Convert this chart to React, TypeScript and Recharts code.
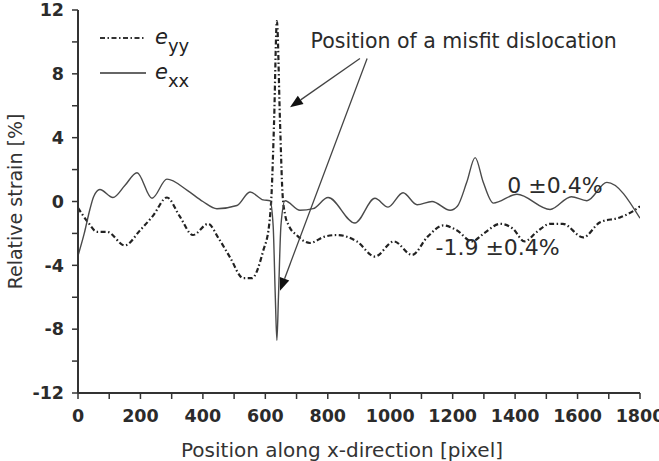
import React from "react";
import {
  LineChart,
  Line,
  XAxis,
  YAxis,
  Legend,
  ReferenceLine,
  ReferenceDot,
} from "recharts";

// e_xx (solid)
const exxX = [0, 20, 38, 50, 70, 112, 150, 189, 237, 285, 350, 400, 445, 509, 551, 593, 615, 625, 632, 637, 642, 650, 663, 711, 753, 801, 887, 951, 993, 1041, 1086, 1134, 1192, 1215, 1245, 1272, 1298, 1330, 1406, 1512, 1580, 1630, 1694, 1800];
const exxY = [-3.4, -2.0, -0.5, 0.3, 0.75, 0.25, 1.0, 1.8, 0.2, 1.4, 0.7, 0.0, -0.45, -0.25, 0.6, 0.1, 0.05, -1.5, -6, -8.7, -6, -1.5, 0.05, -0.55, -0.45, 0.25, -1.35, 0.2, -0.35, 0.55, -0.2, 0.0, -0.55, -0.3, 1.2, 2.75, 1.2, -0.1, 0.45, -0.5, 0.3, 0.05, 1.2, -1.05];

// e_yy (dash-dot-dot)
const eyyX = [0, 32, 61, 93, 150, 199, 240, 285, 325, 368, 417, 450, 487, 529, 557, 593, 612, 620, 628, 637, 647, 655, 663, 675, 700, 743, 790, 830, 893, 951, 1012, 1070, 1120, 1170, 1213, 1262, 1300, 1352, 1393, 1430, 1470, 1512, 1553, 1618, 1672, 1736, 1778, 1800];
const eyyY = [-0.4, -1.3, -1.9, -1.9, -2.75, -1.8, -0.9, 0.25, -0.9, -2.1, -1.4, -2.3, -3.5, -4.8, -4.8, -3.1, -1.5, 0.5, 5, 11.3, 5, 0.5, -0.8, -1.5, -2.1, -2.6, -2.2, -2.1, -2.5, -3.45, -2.5, -3.35, -2.2, -1.5, -1.8, -2.5, -2.0, -1.4, -1.7, -2.5, -1.9, -1.4, -1.4, -2.25, -1.3, -1.0, -0.6, -0.3];

const xTicks = [0, 100, 200, 300, 400, 500, 600, 700, 800, 900, 1000, 1100, 1200, 1300, 1400, 1500, 1600, 1700, 1800];
const yTicks = [-12, -10, -8, -6, -4, -2, 0, 2, 4, 6, 8, 10, 12];

// annotation anchors in data units
const arrowFrom = [{ x: 903, y: 8.96 }, { x: 926, y: 8.96 }];
const arrowTo = [{ x: 679, y: 5.9 }, { x: 647, y: -5.6 }];
const noteText = "Position of a misfit dislocation";
const noteAt = { x: 745, y: 10.05 };
const exxNote = { text: "0 \u00b10.4%", x: 1375, y: 1.0 };
const eyyNote = { text: "-1.9 \u00b10.4%", x: 1145, y: -2.9 };

const exxData = exxX.map((x, i) => ({ x, v: exxY[i] }));
const eyyData = eyyX.map((x, i) => ({ x, v: eyyY[i] }));

const FONT = "'DejaVu Sans', 'Liberation Sans', Arial, sans-serif";
const INK = "#2b2b2b";

const arrowShape = (p: any) => {
  const { x1, y1, x2, y2 } = p;
  const a = Math.atan2(y2 - y1, x2 - x1);
  const len = 13;
  const half = 5;
  const bx = x2 - len * Math.cos(a);
  const by = y2 - len * Math.sin(a);
  const pts = `${x2},${y2} ${bx + half * Math.sin(a)},${by - half * Math.cos(a)} ${bx - half * Math.sin(a)},${by + half * Math.cos(a)}`;
  return (
    <g>
      <line x1={x1} y1={y1} x2={bx} y2={by} stroke="#444" strokeWidth={1.3} />
      <polygon points={pts} fill="#111" />
    </g>
  );
};

const textLabel = (text: string, size: number) => (props: any) => {
  const { viewBox } = props;
  return (
    <text x={viewBox.x} y={viewBox.y} dy="0.35em" fontFamily={FONT} fontSize={size} fill={INK}>
      {text}
    </text>
  );
};

const legendContent = () => (
  <div style={{ fontFamily: FONT, color: "#222" }}>
    {[
      { dash: "5 2.5 1.5 2.5", w: 2.2, sub: "yy" },
      { dash: undefined, w: 1.4, sub: "xx" },
    ].map((it, i) => (
      <div key={i} style={{ display: "flex", alignItems: "center", height: 35 }}>
        <svg width={52} height={10}>
          <line x1={4} y1={5} x2={50} y2={5} stroke="#333" strokeWidth={it.w} strokeDasharray={it.dash} />
        </svg>
        <span style={{ marginLeft: 7, fontSize: 21, fontStyle: "italic", lineHeight: 1 }}>e</span>
        <span style={{ fontSize: 18, position: "relative", top: 8, lineHeight: 1 }}>{it.sub}</span>
      </div>
    ))}
  </div>
);

const axisStroke = { stroke: "#333", strokeWidth: 2 };
const tickStroke = { stroke: "#333", strokeWidth: 1.5 };
const tickFont = { fill: INK, fontSize: 17.5, fontWeight: "bold", fontFamily: FONT };

export default function App() {
  return (
    <div style={{ position: "absolute", left: 0, top: 0, background: "#fff" }}>
      <LineChart width={659} height={461} margin={{ top: 10, right: 19, left: 0, bottom: 0 }}>
        <XAxis
          dataKey="x"
          type="number"
          domain={[0, 1800]}
          ticks={xTicks}
          interval={0}
          allowDataOverflow
          height={68}
          tickSize={6}
          tickMargin={11}
          tickFormatter={(v: number) => (v % 200 === 0 ? String(v) : "")}
          tick={tickFont}
          tickLine={tickStroke}
          axisLine={axisStroke}
          label={{
            value: "Position along x-direction [pixel]",
            position: "insideBottom",
            offset: 4,
            dx: -17,
            fill: "#333",
            fontSize: 20,
            fontFamily: FONT,
          }}
        />
        <XAxis
          xAxisId="top"
          orientation="top"
          dataKey="x"
          type="number"
          domain={[0, 1800]}
          ticks={xTicks}
          interval={0}
          height={0}
          mirror
          tick={false}
          tickSize={6}
          tickLine={tickStroke}
          axisLine={axisStroke}
        />
        <YAxis
          type="number"
          domain={[-12, 12]}
          ticks={yTicks}
          interval={0}
          allowDataOverflow
          width={78}
          tickSize={6}
          tickMargin={8}
          tickFormatter={(v: number) => (v % 4 === 0 ? String(v) : "")}
          tick={tickFont}
          tickLine={tickStroke}
          axisLine={axisStroke}
          label={{
            value: "Relative strain [%]",
            angle: -90,
            position: "insideLeft",
            offset: 15,
            fill: "#333",
            fontSize: 19,
            fontFamily: FONT,
            style: { textAnchor: "middle" },
          }}
        />
        <YAxis
          yAxisId="right"
          orientation="right"
          type="number"
          domain={[-12, 12]}
          ticks={yTicks}
          interval={0}
          width={0}
          mirror
          tick={false}
          tickSize={6}
          tickLine={tickStroke}
          axisLine={axisStroke}
        />
        <Legend
          layout="vertical"
          align="center"
          verticalAlign="middle"
          content={legendContent}
          wrapperStyle={{ left: 96, top: 20, width: 120, height: 70 }}
        />
        <Line
          data={eyyData}
          dataKey="v"
          name="eyy"
          type="monotone"
          stroke="#222"
          strokeWidth={2.2}
          strokeDasharray="5 2.5 1.5 2.5"
          dot={false}
          isAnimationActive={false}
        />
        <Line
          data={exxData}
          dataKey="v"
          name="exx"
          type="monotone"
          stroke="#4a4a4a"
          strokeWidth={1.4}
          dot={false}
          isAnimationActive={false}
        />
        <Line
          data={exxData}
          dataKey="v"
          name="frame"
          xAxisId="top"
          yAxisId="right"
          stroke="none"
          legendType="none"
          dot={false}
          activeDot={false}
          isAnimationActive={false}
        />
        {arrowFrom.map((f, i) => (
          <ReferenceLine key={i} segment={[f, arrowTo[i]]} shape={arrowShape} />
        ))}
        <ReferenceDot x={noteAt.x} y={noteAt.y} r={0} stroke="none" fill="none" label={textLabel(noteText, 20.5)} />
        <ReferenceDot x={exxNote.x} y={exxNote.y} r={0} stroke="none" fill="none" label={textLabel(exxNote.text, 22)} />
        <ReferenceDot x={eyyNote.x} y={eyyNote.y} r={0} stroke="none" fill="none" label={textLabel(eyyNote.text, 22)} />
      </LineChart>
    </div>
  );
}
